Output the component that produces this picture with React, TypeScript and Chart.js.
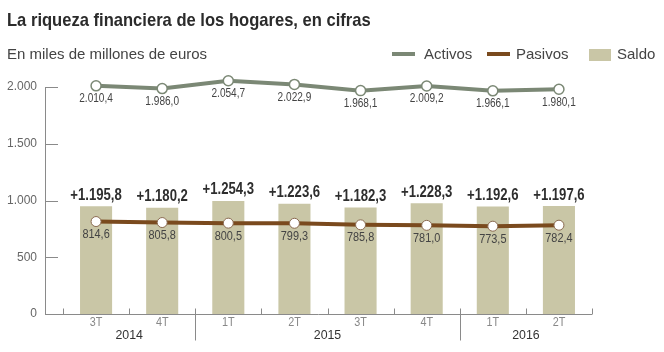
import React, { useEffect, useRef } from "react";
import { Chart, registerables } from "chart.js";

Chart.register(...registerables);

const quarters = ["3T", "4T", "1T", "2T", "3T", "4T", "1T", "2T"];
const years = ["2014", "2015", "2016"];
const quartersPerYear = [2, 4, 2];
const activos = [2010.4, 1986.0, 2054.7, 2022.9, 1968.1, 2009.2, 1966.1, 1980.1];
const pasivos = [814.6, 805.8, 800.5, 799.3, 785.8, 781.0, 773.5, 782.4];
const saldo = [1195.8, 1180.2, 1254.3, 1223.6, 1182.3, 1228.3, 1192.6, 1197.6];
const yTicks = [0, 500, 1000, 1500, 2000];

const TITLE = "La riqueza financiera de los hogares, en cifras";
const SUBTITLE = "En miles de millones de euros";
const LEGEND = ["Activos", "Pasivos", "Saldo"];

const C_ACT = "#7b8875";
const C_PAS = "#7a4a1e";
const C_BAR = "#c9c6a6";
const SANS = "'Liberation Sans', Arial, sans-serif";

function fmt(v: number, dec = 1): string {
  const s = v.toFixed(dec);
  const [i, d] = s.split(".");
  const int = i.replace(/\B(?=(\d{3})+(?!\d))/g, ".");
  return d !== undefined ? int + "," + d : int;
}

// draw text horizontally condensed by factor sx
function narrowText(ctx: CanvasRenderingContext2D, text: string, x: number, y: number, sx: number) {
  ctx.save();
  ctx.translate(x, y);
  ctx.scale(sx, 1);
  ctx.fillText(text, 0, 0);
  ctx.restore();
}

const decorPlugin = {
  id: "decor",
  beforeDatasetsDraw(chart: any) {
    const ctx = chart.ctx;
    const x = chart.scales.x;
    const y = chart.scales.y;
    const area = chart.chartArea;
    const axisX = area.left - 18;
    ctx.save();
    ctx.strokeStyle = "#8a8a8a";
    ctx.lineWidth = 1;
    ctx.beginPath();
    ctx.moveTo(axisX + 0.5, y.getPixelForValue(yTicks[yTicks.length - 1]));
    ctx.lineTo(axisX + 0.5, y.getPixelForValue(0));
    ctx.stroke();
    yTicks.forEach((t) => {
      const py = Math.round(y.getPixelForValue(t)) + 0.5;
      ctx.beginPath();
      ctx.moveTo(axisX, py);
      ctx.lineTo(axisX + 13, py);
      ctx.stroke();
    });
    const by = Math.round(y.getPixelForValue(0)) + 0.5;
    ctx.beginPath();
    ctx.moveTo(axisX, by);
    ctx.lineTo(area.right, by);
    ctx.stroke();
    const half = (x.getPixelForValue(1) - x.getPixelForValue(0)) / 2;
    const yearBounds: number[] = [];
    let acc = 0;
    quartersPerYear.forEach((n, i) => {
      acc += n;
      if (i < quartersPerYear.length - 1) yearBounds.push(acc);
    });
    for (let i = 0; i <= quarters.length; i++) {
      const px = Math.round(x.getPixelForValue(i) - half) + 0.5;
      const isYear = yearBounds.includes(i);
      ctx.beginPath();
      ctx.moveTo(px, by - 6);
      ctx.lineTo(px, isYear ? by + 26 : by);
      ctx.stroke();
    }
    ctx.restore();
  },
  afterDatasetsDraw(chart: any) {
    const ctx = chart.ctx;
    const x = chart.scales.x;
    ctx.save();
    ctx.textAlign = "center";
    ctx.textBaseline = "middle";
    const barMeta = chart.getDatasetMeta(0);
    ctx.fillStyle = "#2e2e2e";
    ctx.font = "bold 16px " + SANS;
    barMeta.data.forEach((el: any, i: number) => {
      narrowText(ctx, "+" + fmt(saldo[i]), el.x, el.y - 11, 0.82);
    });
    const actMeta = chart.getDatasetMeta(1);
    ctx.fillStyle = "#444";
    ctx.font = "12px " + SANS;
    actMeta.data.forEach((el: any, i: number) => {
      narrowText(ctx, fmt(activos[i]), el.x, el.y + 13, 0.84);
    });
    const pasMeta = chart.getDatasetMeta(2);
    ctx.font = "13px " + SANS;
    pasMeta.data.forEach((el: any, i: number) => {
      narrowText(ctx, fmt(pasivos[i]), el.x, el.y + 13, 0.84);
    });
    // Quarter labels
    ctx.fillStyle = "#888";
    ctx.font = "12px " + SANS;
    quarters.forEach((q, i) => {
      narrowText(ctx, q, x.getPixelForValue(i), 323, 0.9);
    });
    // Year labels
    ctx.fillStyle = "#333";
    ctx.font = "13px " + SANS;
    let start = 0;
    quartersPerYear.forEach((n, i) => {
      const cx = (x.getPixelForValue(start) + x.getPixelForValue(start + n - 1)) / 2;
      narrowText(ctx, years[i], cx, 335, 0.95);
      start += n;
    });
    // Title
    ctx.textAlign = "left";
    ctx.textBaseline = "alphabetic";
    ctx.fillStyle = "#2b2b2b";
    ctx.font = "bold 19px " + SANS;
    narrowText(ctx, TITLE, 7, 26, 0.872);
    // Subtitle
    ctx.textBaseline = "middle";
    ctx.fillStyle = "#444";
    ctx.font = "15px " + SANS;
    ctx.fillText(SUBTITLE, 7, 55);
    // Legend
    ctx.font = "15px " + SANS;
    ctx.lineWidth = 4;
    ctx.strokeStyle = C_ACT;
    ctx.beginPath();
    ctx.moveTo(392, 54);
    ctx.lineTo(415, 54);
    ctx.stroke();
    ctx.fillText(LEGEND[0], 424, 55);
    ctx.strokeStyle = C_PAS;
    ctx.beginPath();
    ctx.moveTo(487, 54);
    ctx.lineTo(510, 54);
    ctx.stroke();
    ctx.fillText(LEGEND[1], 516, 55);
    ctx.fillStyle = C_BAR;
    ctx.fillRect(589, 49, 22, 12);
    ctx.fillStyle = "#444";
    ctx.fillText(LEGEND[2], 617, 55);
    ctx.restore();
  },
};

export default function App() {
  const ref = useRef<HTMLCanvasElement | null>(null);
  useEffect(() => {
    if (!ref.current) return;
    const chart = new Chart(ref.current, {
      type: "bar",
      data: {
        labels: quarters,
        datasets: [
          {
            type: "bar",
            label: "Saldo",
            data: saldo,
            backgroundColor: C_BAR,
            yAxisID: "y2",
            categoryPercentage: 1,
            barPercentage: 0.485,
            order: 3,
          },
          {
            type: "line",
            label: "Activos",
            data: activos,
            borderColor: C_ACT,
            borderWidth: 4,
            pointBackgroundColor: "#fff",
            pointBorderColor: C_ACT,
            pointBorderWidth: 1.5,
            pointRadius: 5,
            yAxisID: "y",
            clip: false,
            order: 1,
          } as any,
          {
            type: "line",
            label: "Pasivos",
            data: pasivos,
            borderColor: C_PAS,
            borderWidth: 4,
            pointBackgroundColor: "#fff",
            pointBorderColor: "#8a6a50",
            pointBorderWidth: 1,
            pointRadius: 5,
            yAxisID: "y",
            clip: false,
            order: 2,
          } as any,
        ],
      },
      options: {
        animation: false,
        responsive: false,
        maintainAspectRatio: false,
        layout: { padding: { left: 0, right: 72, top: 87, bottom: 0 } },
        plugins: { legend: { display: false }, tooltip: { enabled: false } },
        scales: {
          x: {
            grid: { display: false, drawTicks: false },
            border: { display: false },
            ticks: { display: false },
            afterFit: (s: any) => {
              s.height = 38;
            },
          },
          y: {
            min: 0,
            max: 2000,
            grid: { display: false, drawTicks: false },
            border: { display: false },
            afterBuildTicks: (s: any) => {
              s.ticks = yTicks.map((v) => ({ value: v }));
            },
            ticks: {
              color: "#666",
              font: { family: SANS, size: 12 },
              padding: 26,
              callback: (v: any) => fmt(Number(v), 0),
            },
            afterFit: (s: any) => {
              s.width = 63;
            },
          },
          y2: { display: false, min: 0, max: 2520 },
        },
      },
      plugins: [decorPlugin],
    });
    return () => chart.destroy();
  }, []);
  return (
    <div style={{ position: "fixed", left: 0, top: 0, width: 664, height: 352, background: "#fff" }}>
      <canvas ref={ref} width={664} height={352} style={{ width: 664, height: 352 }} />
    </div>
  );
}
